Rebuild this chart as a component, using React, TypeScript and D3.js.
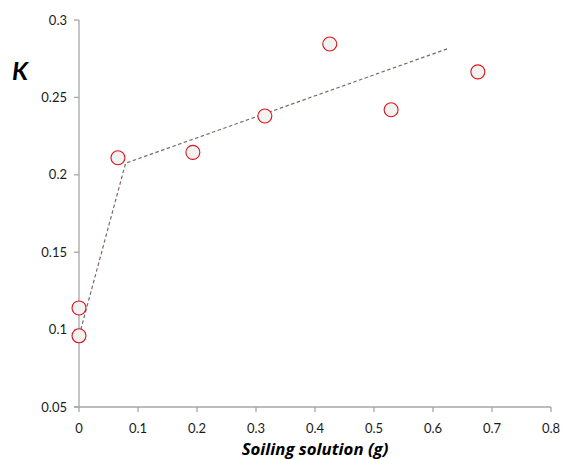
import React from "react";
import * as d3 from "d3";

// measured points
const soilingX = [0, 0, 0.066, 0.193, 0.315, 0.425, 0.529, 0.676];
const kValues = [0.096, 0.114, 0.211, 0.2145, 0.238, 0.2845, 0.242, 0.2665];

// fitted piecewise trend (dashed)
const trendX = [0.003, 0.079, 0.625];
const trendY = [0.1, 0.2075, 0.2815];

const xTicks = [0, 0.1, 0.2, 0.3, 0.4, 0.5, 0.6, 0.7, 0.8];
const yTicks = [0.05, 0.1, 0.15, 0.2, 0.25, 0.3];

const width = 563;
const height = 459;
const font = "Lato, 'Open Sans', sans-serif";

export default function App() {
  const x = d3.scaleLinear().domain([0, 0.8]).range([79, 551]);
  const y = d3.scaleLinear().domain([0.05, 0.3]).range([407, 20]);

  const trend = d3
    .line<number>()
    .x((d) => x(d))
    .y((_, i) => y(trendY[i]));

  const axisColor = "#a6a6a6";

  return (
    <svg
      width={width}
      height={height}
      style={{ position: "absolute", left: 0, top: 0, background: "#fff" }}
      fontFamily={font}
    >
      {/* y axis */}
      <line x1={x(0)} x2={x(0)} y1={y(0.3)} y2={y(0.05)} stroke={axisColor} strokeWidth={1.3} />
      {yTicks.map((t) => (
        <g key={"y" + t}>
          <line x1={x(0) - 5} x2={x(0)} y1={y(t)} y2={y(t)} stroke={axisColor} strokeWidth={1.3} />
          <text x={x(0) - 12} y={y(t)} dy="0.35em" textAnchor="end" fontSize={13} fill="#1a1a1a">
            {t}
          </text>
        </g>
      ))}

      {/* x axis */}
      <line x1={x(0) - 5} x2={x(0.8)} y1={y(0.05)} y2={y(0.05)} stroke={axisColor} strokeWidth={1.3} />
      {xTicks.map((t) => (
        <g key={"x" + t}>
          <line x1={x(t)} x2={x(t)} y1={y(0.05)} y2={y(0.05) + 5} stroke={axisColor} strokeWidth={1.3} />
          <text x={x(t)} y={y(0.05) + 26} textAnchor="middle" fontSize={13} fill="#1a1a1a">
            {t}
          </text>
        </g>
      ))}

      {/* trend */}
      <path
        d={trend(trendX) ?? ""}
        fill="none"
        stroke="#7a6a64"
        strokeWidth={1.2}
        strokeDasharray="3.5,2.5"
      />

      {/* points */}
      {soilingX.map((v, i) => (
        <circle
          key={i}
          cx={x(v)}
          cy={y(kValues[i])}
          r={7}
          fill="#f2f2f2"
          stroke="#d9141b"
          strokeWidth={1.1}
        />
      ))}

      {/* titles */}
      <text x={12} y={80} fontSize={25} fontWeight="bold" fontStyle="italic" fill="#000">
        K
      </text>
      <text
        x={315}
        y={455}
        textAnchor="middle"
        fontSize={16.8}
        fontWeight="bold"
        fontStyle="italic"
        fill="#000"
        fontFamily="'Open Sans', sans-serif"
      >
        Soiling solution (g)
      </text>
    </svg>
  );
}
